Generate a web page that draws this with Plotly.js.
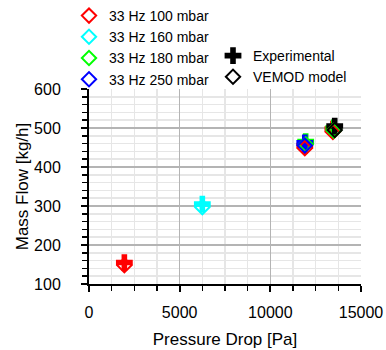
<!DOCTYPE html>
<html>
<head>
<meta charset="utf-8">
<script src="https://cdn.plot.ly/plotly-3.0.1.min.js"></script>
<style>html,body{margin:0;padding:0;background:#fff;}#chart{width:386px;height:350px;}</style>
</head>
<body>
<div id="chart"></div>
<script>
// Series names and colours
const seriesNames = ["33 Hz 100 mbar", "33 Hz 160 mbar", "33 Hz 180 mbar", "33 Hz 250 mbar"];
const seriesColors = ["#ff0000", "#00ffff", "#00ff00", "#0000ff"];

// Pressure drop [Pa] per series
const xRed = [1950, 11900, 13450];
const xCyan = [6250];
const xGreen = [11950, 13500];
const xBlue = [11900];
const xBlack = [13550];

// Experimental mass flow [kg/h]
const expRed = [155, 455, 497];
const expCyan = [305];
const expGreen = [465, 500];
const expBlue = [462];
const expBlack = [505];

// VEMOD model mass flow [kg/h]
const modRed = [148, 448, 490];
const modCyan = [297];
const modGreen = [458, 493];
const modBlue = [455];
const modBlack = [495];

const xs = [xRed, xCyan, xGreen, xBlue];
const exps = [expRed, expCyan, expGreen, expBlue];
const mods = [modRed, modCyan, modGreen, modBlue];

const traces = [];
for (let i = 0; i < 4; i++) {
  traces.push({
    x: xs[i], y: exps[i], type: "scatter", mode: "markers", showlegend: false,
    name: seriesNames[i] + " exp", legend: "legend",
    marker: {symbol: "cross", size: 14, color: seriesColors[i], line: {width: 0}}
  });
}
traces.push({
  x: xBlack, y: expBlack, type: "scatter", mode: "markers", name: "Experimental", legend: "legend2",
  marker: {symbol: "cross", size: 14, color: "#000000", line: {width: 0}}
});
for (let i = 0; i < 4; i++) {
  traces.push({
    x: xs[i], y: mods[i], type: "scatter", mode: "markers",
    name: seriesNames[i], legend: "legend",
    marker: {symbol: "diamond-open", size: 11, color: seriesColors[i], line: {width: 2, color: seriesColors[i]}}
  });
}
traces.push({
  x: xBlack, y: modBlack, type: "scatter", mode: "markers", name: "VEMOD model", legend: "legend2",
  marker: {symbol: "diamond-open", size: 11, color: "#000000", line: {width: 2, color: "#000000"}}
});

const font = {family: "Liberation Sans, Arial, sans-serif", color: "#000"};
const pw = 386 - 89 - 25, ph = 350 - 89 - 66;

const layout = {
  width: 386, height: 350,
  margin: {l: 89, r: 25, t: 89, b: 66, autoexpand: false},
  paper_bgcolor: "#fff", plot_bgcolor: "#fff",
  font: Object.assign({size: 14}, font),
  separators: ".,",
  xaxis: {
    range: [0, 15000], dtick: 5000, tick0: 0,
    exponentformat: "none", separatethousands: false, tickformat: "d",
    showline: true, linecolor: "#000", linewidth: 2, mirror: false,
    ticks: "outside", ticklen: 6, tickwidth: 2, tickcolor: "#000",
    showgrid: true, gridcolor: "#b4b4b4", gridwidth: 1.5,
    zeroline: false,
    tickfont: {size: 16, family: font.family, color: "#000"},
    ticklabelstandoff: 7,
    minor: {dtick: 1250, ticks: "outside", ticklen: 5, tickwidth: 1.5, tickcolor: "#000", showgrid: true, gridcolor: "#e6e6e6", gridwidth: 1.5},
    title: {text: "Pressure Drop [Pa]", font: {size: 17, family: font.family, color: "#000"}, standoff: 13}
  },
  yaxis: {
    range: [100, 600], dtick: 100, tick0: 0,
    showline: true, linecolor: "#000", linewidth: 2, mirror: false,
    ticks: "outside", ticklen: 6, tickwidth: 2, tickcolor: "#000",
    showgrid: true, gridcolor: "#b4b4b4", gridwidth: 1.5,
    zeroline: false,
    tickfont: {size: 16, family: font.family, color: "#000"},
    ticklabelstandoff: 17,
    minor: {dtick: 20, ticks: "outside", ticklen: 5, tickwidth: 1.5, tickcolor: "#000", showgrid: true, gridcolor: "#e6e6e6", gridwidth: 1.5},
    title: {text: "Mass Flow [kg/h]", font: {size: 17, family: font.family, color: "#000"}, standoff: 1}
  },
  legend: {
    x: (69 - 89) / pw, xanchor: "left",
    y: 1 + 89 / ph, yanchor: "top",
    font: {size: 14, family: font.family, color: "#000"},
    bgcolor: "rgba(0,0,0,0)", tracegroupgap: 0, itemwidth: 30
  },
  legend2: {
    x: (213 - 89) / pw, xanchor: "left",
    y: 1 + (89 - 40) / ph, yanchor: "top",
    font: {size: 14, family: font.family, color: "#000"},
    bgcolor: "rgba(0,0,0,0)", itemwidth: 30
  },
  showlegend: true
};

Plotly.newPlot("chart", traces, layout, {displayModeBar: false, staticPlot: true});
</script>
</body>
</html>
